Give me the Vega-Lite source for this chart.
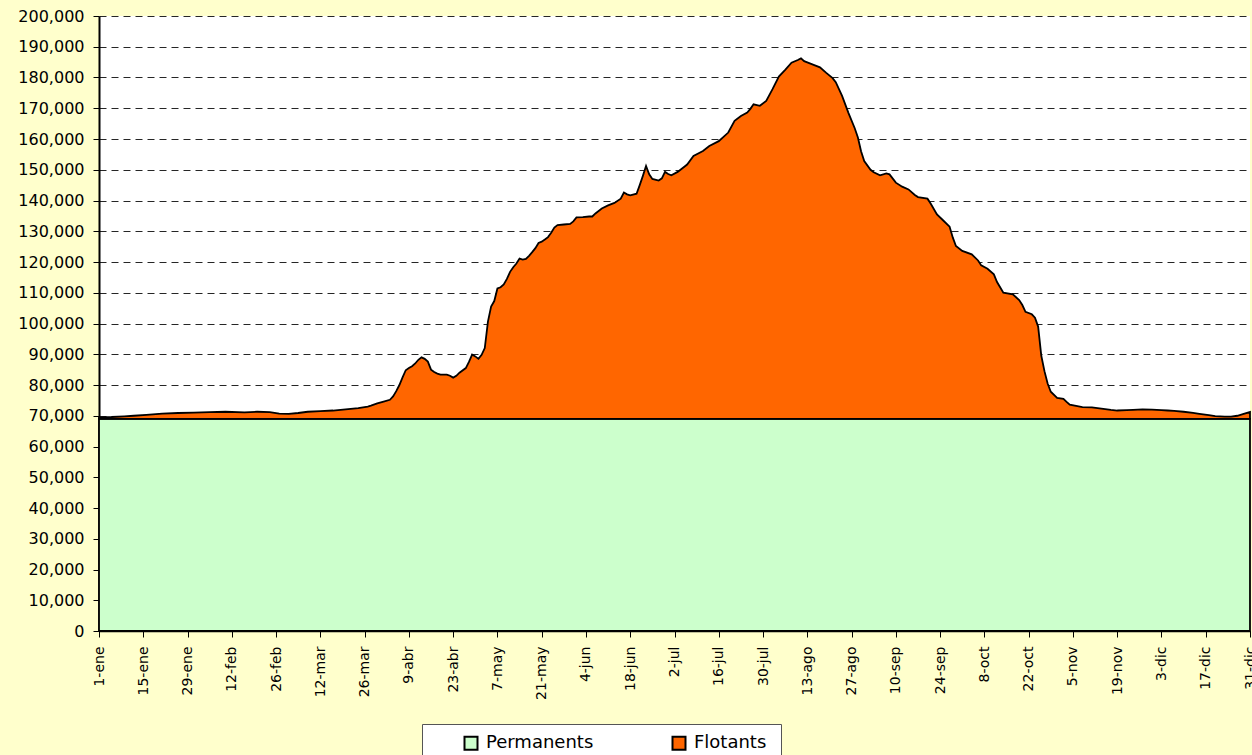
{
"$schema": "https://vega.github.io/schema/vega-lite/v6.json",
"width": 1151, "height": 615,
"autosize": {"type": "none"},
"padding": {"left": 99, "top": 16, "right": 2, "bottom": 124},
"background": "#FFFFCC",
"config": {"view": {"fill": "white", "stroke": null}, "font": "DejaVu Sans"},
"data": {"values": [
{"fecha":"2007-01-01","Permanents":69000,"Flotants":500},
{"fecha":"2007-01-05","Permanents":69000,"Flotants":600},
{"fecha":"2007-01-09","Permanents":69000,"Flotants":800},
{"fecha":"2007-01-12","Permanents":69000,"Flotants":1000},
{"fecha":"2007-01-16","Permanents":69000,"Flotants":1300},
{"fecha":"2007-01-21","Permanents":69000,"Flotants":1700},
{"fecha":"2007-01-26","Permanents":69000,"Flotants":1900},
{"fecha":"2007-01-31","Permanents":69000,"Flotants":2000},
{"fecha":"2007-02-05","Permanents":69000,"Flotants":2200},
{"fecha":"2007-02-10","Permanents":69000,"Flotants":2300},
{"fecha":"2007-02-16","Permanents":69000,"Flotants":2100},
{"fecha":"2007-02-20","Permanents":69000,"Flotants":2300},
{"fecha":"2007-02-24","Permanents":69000,"Flotants":2200},
{"fecha":"2007-02-27","Permanents":69000,"Flotants":1700},
{"fecha":"2007-03-02","Permanents":69000,"Flotants":1600},
{"fecha":"2007-03-05","Permanents":69000,"Flotants":1900},
{"fecha":"2007-03-08","Permanents":69000,"Flotants":2300},
{"fecha":"2007-03-12","Permanents":69000,"Flotants":2500},
{"fecha":"2007-03-16","Permanents":69000,"Flotants":2700},
{"fecha":"2007-03-20","Permanents":69000,"Flotants":3100},
{"fecha":"2007-03-24","Permanents":69000,"Flotants":3500},
{"fecha":"2007-03-27","Permanents":69000,"Flotants":4000},
{"fecha":"2007-03-28","Permanents":69000,"Flotants":4300},
{"fecha":"2007-03-30","Permanents":69000,"Flotants":5000},
{"fecha":"2007-04-01","Permanents":69000,"Flotants":5600},
{"fecha":"2007-04-03","Permanents":69000,"Flotants":6200},
{"fecha":"2007-04-04","Permanents":69000,"Flotants":7300},
{"fecha":"2007-04-05","Permanents":69000,"Flotants":9000},
{"fecha":"2007-04-06","Permanents":69000,"Flotants":11000},
{"fecha":"2007-04-07","Permanents":69000,"Flotants":13500},
{"fecha":"2007-04-08","Permanents":69000,"Flotants":15800},
{"fecha":"2007-04-09","Permanents":69000,"Flotants":16500},
{"fecha":"2007-04-10","Permanents":69000,"Flotants":17100},
{"fecha":"2007-04-11","Permanents":69000,"Flotants":18000},
{"fecha":"2007-04-12","Permanents":69000,"Flotants":19200},
{"fecha":"2007-04-13","Permanents":69000,"Flotants":20000},
{"fecha":"2007-04-14","Permanents":69000,"Flotants":19500},
{"fecha":"2007-04-15","Permanents":69000,"Flotants":18600},
{"fecha":"2007-04-16","Permanents":69000,"Flotants":16000},
{"fecha":"2007-04-17","Permanents":69000,"Flotants":15200},
{"fecha":"2007-04-18","Permanents":69000,"Flotants":14700},
{"fecha":"2007-04-19","Permanents":69000,"Flotants":14400},
{"fecha":"2007-04-21","Permanents":69000,"Flotants":14400},
{"fecha":"2007-04-22","Permanents":69000,"Flotants":14000},
{"fecha":"2007-04-23","Permanents":69000,"Flotants":13400},
{"fecha":"2007-04-24","Permanents":69000,"Flotants":14000},
{"fecha":"2007-04-25","Permanents":69000,"Flotants":15000},
{"fecha":"2007-04-27","Permanents":69000,"Flotants":16500},
{"fecha":"2007-04-28","Permanents":69000,"Flotants":18500},
{"fecha":"2007-04-29","Permanents":69000,"Flotants":20900},
{"fecha":"2007-04-30","Permanents":69000,"Flotants":20300},
{"fecha":"2007-05-01","Permanents":69000,"Flotants":19500},
{"fecha":"2007-05-02","Permanents":69000,"Flotants":20800},
{"fecha":"2007-05-03","Permanents":69000,"Flotants":23000},
{"fecha":"2007-05-04","Permanents":69000,"Flotants":31600},
{"fecha":"2007-05-05","Permanents":69000,"Flotants":36500},
{"fecha":"2007-05-06","Permanents":69000,"Flotants":38300},
{"fecha":"2007-05-07","Permanents":69000,"Flotants":42400},
{"fecha":"2007-05-08","Permanents":69000,"Flotants":42800},
{"fecha":"2007-05-09","Permanents":69000,"Flotants":43700},
{"fecha":"2007-05-10","Permanents":69000,"Flotants":45500},
{"fecha":"2007-05-11","Permanents":69000,"Flotants":47800},
{"fecha":"2007-05-12","Permanents":69000,"Flotants":49300},
{"fecha":"2007-05-13","Permanents":69000,"Flotants":50500},
{"fecha":"2007-05-14","Permanents":69000,"Flotants":52100},
{"fecha":"2007-05-15","Permanents":69000,"Flotants":51800},
{"fecha":"2007-05-16","Permanents":69000,"Flotants":52000},
{"fecha":"2007-05-17","Permanents":69000,"Flotants":53000},
{"fecha":"2007-05-18","Permanents":69000,"Flotants":54200},
{"fecha":"2007-05-19","Permanents":69000,"Flotants":55500},
{"fecha":"2007-05-20","Permanents":69000,"Flotants":57200},
{"fecha":"2007-05-21","Permanents":69000,"Flotants":57600},
{"fecha":"2007-05-22","Permanents":69000,"Flotants":58300},
{"fecha":"2007-05-23","Permanents":69000,"Flotants":59100},
{"fecha":"2007-05-24","Permanents":69000,"Flotants":60500},
{"fecha":"2007-05-25","Permanents":69000,"Flotants":62200},
{"fecha":"2007-05-26","Permanents":69000,"Flotants":63000},
{"fecha":"2007-05-28","Permanents":69000,"Flotants":63200},
{"fecha":"2007-05-30","Permanents":69000,"Flotants":63400},
{"fecha":"2007-05-31","Permanents":69000,"Flotants":64200},
{"fecha":"2007-06-01","Permanents":69000,"Flotants":65500},
{"fecha":"2007-06-03","Permanents":69000,"Flotants":65600},
{"fecha":"2007-06-05","Permanents":69000,"Flotants":65800},
{"fecha":"2007-06-06","Permanents":69000,"Flotants":65800},
{"fecha":"2007-06-07","Permanents":69000,"Flotants":66800},
{"fecha":"2007-06-09","Permanents":69000,"Flotants":68400},
{"fecha":"2007-06-11","Permanents":69000,"Flotants":69400},
{"fecha":"2007-06-13","Permanents":69000,"Flotants":70200},
{"fecha":"2007-06-15","Permanents":69000,"Flotants":71600},
{"fecha":"2007-06-16","Permanents":69000,"Flotants":73600},
{"fecha":"2007-06-17","Permanents":69000,"Flotants":73000},
{"fecha":"2007-06-18","Permanents":69000,"Flotants":72700},
{"fecha":"2007-06-20","Permanents":69000,"Flotants":73200},
{"fecha":"2007-06-21","Permanents":69000,"Flotants":76000},
{"fecha":"2007-06-22","Permanents":69000,"Flotants":79000},
{"fecha":"2007-06-23","Permanents":69000,"Flotants":82200},
{"fecha":"2007-06-24","Permanents":69000,"Flotants":79500},
{"fecha":"2007-06-25","Permanents":69000,"Flotants":78000},
{"fecha":"2007-06-27","Permanents":69000,"Flotants":77500},
{"fecha":"2007-06-28","Permanents":69000,"Flotants":78200},
{"fecha":"2007-06-29","Permanents":69000,"Flotants":80300},
{"fecha":"2007-06-30","Permanents":69000,"Flotants":79600},
{"fecha":"2007-07-01","Permanents":69000,"Flotants":79200},
{"fecha":"2007-07-03","Permanents":69000,"Flotants":80300},
{"fecha":"2007-07-04","Permanents":69000,"Flotants":81100},
{"fecha":"2007-07-06","Permanents":69000,"Flotants":82700},
{"fecha":"2007-07-08","Permanents":69000,"Flotants":85500},
{"fecha":"2007-07-11","Permanents":69000,"Flotants":87100},
{"fecha":"2007-07-13","Permanents":69000,"Flotants":88700},
{"fecha":"2007-07-16","Permanents":69000,"Flotants":90300},
{"fecha":"2007-07-19","Permanents":69000,"Flotants":93100},
{"fecha":"2007-07-21","Permanents":69000,"Flotants":96900},
{"fecha":"2007-07-23","Permanents":69000,"Flotants":98500},
{"fecha":"2007-07-25","Permanents":69000,"Flotants":99600},
{"fecha":"2007-07-26","Permanents":69000,"Flotants":100800},
{"fecha":"2007-07-27","Permanents":69000,"Flotants":102300},
{"fecha":"2007-07-29","Permanents":69000,"Flotants":101800},
{"fecha":"2007-07-31","Permanents":69000,"Flotants":103400},
{"fecha":"2007-08-02","Permanents":69000,"Flotants":107200},
{"fecha":"2007-08-04","Permanents":69000,"Flotants":111300},
{"fecha":"2007-08-06","Permanents":69000,"Flotants":113500},
{"fecha":"2007-08-08","Permanents":69000,"Flotants":115800},
{"fecha":"2007-08-10","Permanents":69000,"Flotants":116700},
{"fecha":"2007-08-11","Permanents":69000,"Flotants":117200},
{"fecha":"2007-08-12","Permanents":69000,"Flotants":116300},
{"fecha":"2007-08-13","Permanents":69000,"Flotants":115900},
{"fecha":"2007-08-15","Permanents":69000,"Flotants":115100},
{"fecha":"2007-08-17","Permanents":69000,"Flotants":114300},
{"fecha":"2007-08-19","Permanents":69000,"Flotants":112500},
{"fecha":"2007-08-21","Permanents":69000,"Flotants":110800},
{"fecha":"2007-08-22","Permanents":69000,"Flotants":109500},
{"fecha":"2007-08-24","Permanents":69000,"Flotants":105000},
{"fecha":"2007-08-26","Permanents":69000,"Flotants":99500},
{"fecha":"2007-08-28","Permanents":69000,"Flotants":94500},
{"fecha":"2007-08-29","Permanents":69000,"Flotants":91500},
{"fecha":"2007-08-30","Permanents":69000,"Flotants":87000},
{"fecha":"2007-08-31","Permanents":69000,"Flotants":83800},
{"fecha":"2007-09-02","Permanents":69000,"Flotants":81000},
{"fecha":"2007-09-03","Permanents":69000,"Flotants":80200},
{"fecha":"2007-09-05","Permanents":69000,"Flotants":79200},
{"fecha":"2007-09-07","Permanents":69000,"Flotants":79800},
{"fecha":"2007-09-08","Permanents":69000,"Flotants":79500},
{"fecha":"2007-09-10","Permanents":69000,"Flotants":76800},
{"fecha":"2007-09-12","Permanents":69000,"Flotants":75500},
{"fecha":"2007-09-14","Permanents":69000,"Flotants":74600},
{"fecha":"2007-09-16","Permanents":69000,"Flotants":72800},
{"fecha":"2007-09-17","Permanents":69000,"Flotants":72100},
{"fecha":"2007-09-20","Permanents":69000,"Flotants":71600},
{"fecha":"2007-09-21","Permanents":69000,"Flotants":70000},
{"fecha":"2007-09-23","Permanents":69000,"Flotants":66500},
{"fecha":"2007-09-25","Permanents":69000,"Flotants":64500},
{"fecha":"2007-09-27","Permanents":69000,"Flotants":62500},
{"fecha":"2007-09-28","Permanents":69000,"Flotants":59000},
{"fecha":"2007-09-29","Permanents":69000,"Flotants":56200},
{"fecha":"2007-10-01","Permanents":69000,"Flotants":54600},
{"fecha":"2007-10-04","Permanents":69000,"Flotants":53500},
{"fecha":"2007-10-06","Permanents":69000,"Flotants":51500},
{"fecha":"2007-10-07","Permanents":69000,"Flotants":49900},
{"fecha":"2007-10-09","Permanents":69000,"Flotants":48800},
{"fecha":"2007-10-11","Permanents":69000,"Flotants":47000},
{"fecha":"2007-10-12","Permanents":69000,"Flotants":44500},
{"fecha":"2007-10-14","Permanents":69000,"Flotants":41000},
{"fecha":"2007-10-17","Permanents":69000,"Flotants":40500},
{"fecha":"2007-10-19","Permanents":69000,"Flotants":38600},
{"fecha":"2007-10-20","Permanents":69000,"Flotants":37000},
{"fecha":"2007-10-21","Permanents":69000,"Flotants":34800},
{"fecha":"2007-10-23","Permanents":69000,"Flotants":34000},
{"fecha":"2007-10-24","Permanents":69000,"Flotants":32900},
{"fecha":"2007-10-25","Permanents":69000,"Flotants":30000},
{"fecha":"2007-10-26","Permanents":69000,"Flotants":20500},
{"fecha":"2007-10-27","Permanents":69000,"Flotants":15500},
{"fecha":"2007-10-28","Permanents":69000,"Flotants":11500},
{"fecha":"2007-10-29","Permanents":69000,"Flotants":8800},
{"fecha":"2007-10-31","Permanents":69000,"Flotants":6800},
{"fecha":"2007-11-02","Permanents":69000,"Flotants":6500},
{"fecha":"2007-11-03","Permanents":69000,"Flotants":5500},
{"fecha":"2007-11-04","Permanents":69000,"Flotants":4600},
{"fecha":"2007-11-06","Permanents":69000,"Flotants":4200},
{"fecha":"2007-11-08","Permanents":69000,"Flotants":3800},
{"fecha":"2007-11-11","Permanents":69000,"Flotants":3700},
{"fecha":"2007-11-14","Permanents":69000,"Flotants":3300},
{"fecha":"2007-11-17","Permanents":69000,"Flotants":2900},
{"fecha":"2007-11-19","Permanents":69000,"Flotants":2700},
{"fecha":"2007-11-22","Permanents":69000,"Flotants":2800},
{"fecha":"2007-11-24","Permanents":69000,"Flotants":2900},
{"fecha":"2007-11-27","Permanents":69000,"Flotants":3100},
{"fecha":"2007-11-30","Permanents":69000,"Flotants":3000},
{"fecha":"2007-12-03","Permanents":69000,"Flotants":2800},
{"fecha":"2007-12-05","Permanents":69000,"Flotants":2700},
{"fecha":"2007-12-07","Permanents":69000,"Flotants":2600},
{"fecha":"2007-12-10","Permanents":69000,"Flotants":2300},
{"fecha":"2007-12-13","Permanents":69000,"Flotants":1900},
{"fecha":"2007-12-15","Permanents":69000,"Flotants":1600},
{"fecha":"2007-12-18","Permanents":69000,"Flotants":1200},
{"fecha":"2007-12-20","Permanents":69000,"Flotants":900},
{"fecha":"2007-12-23","Permanents":69000,"Flotants":700},
{"fecha":"2007-12-25","Permanents":69000,"Flotants":700},
{"fecha":"2007-12-27","Permanents":69000,"Flotants":1000},
{"fecha":"2007-12-29","Permanents":69000,"Flotants":1600},
{"fecha":"2007-12-31","Permanents":69000,"Flotants":2200}
]},
"transform": [{"fold": ["Permanents", "Flotants"], "as": ["serie", "valor"]}],
"mark": {"type": "area", "interpolate": "linear", "stroke": "black", "strokeWidth": 1.8, "opacity": 1},
"encoding": {
  "x": {"field": "fecha", "type": "temporal",
    "scale": {"type": "utc", "nice": false, "domain": [{"year": 2007, "month": 1, "date": 1, "utc": true}, {"year": 2007, "month": 12, "date": 31, "utc": true}]},
    "axis": {"title": null, "grid": false, "labelAngle": -90, "labelFontSize": 14, "labelColor": "black", "labelPadding": 9, "labelOverlap": false, "labelBound": false, "labelFlush": false,
      "tickColor": "black", "tickSize": 6, "domainColor": "black", "domainWidth": 1.5,
      "values": [
        {"year": 2007, "month": 1, "date": 1, "utc": true},
        {"year": 2007, "month": 1, "date": 15, "utc": true},
        {"year": 2007, "month": 1, "date": 29, "utc": true},
        {"year": 2007, "month": 2, "date": 12, "utc": true},
        {"year": 2007, "month": 2, "date": 26, "utc": true},
        {"year": 2007, "month": 3, "date": 12, "utc": true},
        {"year": 2007, "month": 3, "date": 26, "utc": true},
        {"year": 2007, "month": 4, "date": 9, "utc": true},
        {"year": 2007, "month": 4, "date": 23, "utc": true},
        {"year": 2007, "month": 5, "date": 7, "utc": true},
        {"year": 2007, "month": 5, "date": 21, "utc": true},
        {"year": 2007, "month": 6, "date": 4, "utc": true},
        {"year": 2007, "month": 6, "date": 18, "utc": true},
        {"year": 2007, "month": 7, "date": 2, "utc": true},
        {"year": 2007, "month": 7, "date": 16, "utc": true},
        {"year": 2007, "month": 7, "date": 30, "utc": true},
        {"year": 2007, "month": 8, "date": 13, "utc": true},
        {"year": 2007, "month": 8, "date": 27, "utc": true},
        {"year": 2007, "month": 9, "date": 10, "utc": true},
        {"year": 2007, "month": 9, "date": 24, "utc": true},
        {"year": 2007, "month": 10, "date": 8, "utc": true},
        {"year": 2007, "month": 10, "date": 22, "utc": true},
        {"year": 2007, "month": 11, "date": 5, "utc": true},
        {"year": 2007, "month": 11, "date": 19, "utc": true},
        {"year": 2007, "month": 12, "date": 3, "utc": true},
        {"year": 2007, "month": 12, "date": 17, "utc": true},
        {"year": 2007, "month": 12, "date": 31, "utc": true}
      ],
      "labelExpr": "utcdate(datum.value) + '-' + ['ene','feb','mar','abr','may','jun','jul','ago','sep','oct','nov','dic'][utcmonth(datum.value)]"
    }},
  "y": {"field": "valor", "type": "quantitative", "stack": "zero",
    "scale": {"domain": [0, 200000], "nice": false},
    "axis": {"title": null, "values": [0,10000,20000,30000,40000,50000,60000,70000,80000,90000,100000,110000,120000,130000,140000,150000,160000,170000,180000,190000,200000],
      "format": ",d", "labelFontSize": 16, "labelColor": "black", "labelPadding": 9,
      "tickColor": "black", "tickSize": 6, "domainColor": "black", "domainWidth": 2,
      "grid": true, "gridColor": "black", "gridDash": [7, 5], "gridWidth": 1, "gridOpacity": 0.85}},
  "color": {"field": "serie", "type": "nominal",
    "scale": {"domain": ["Permanents", "Flotants"], "range": ["#CCFFCC", "#FF6600"]},
    "legend": {"orient": "none", "legendX": 323, "legendY": 708, "direction": "horizontal",
      "title": "\u2003\u2003", "titleOrient": "right", "titleFontSize": 12, "titlePadding": 5,
      "symbolType": "square", "symbolSize": 169, "symbolStrokeColor": "black", "symbolStrokeWidth": 2, "symbolOpacity": 1,
      "labelFontSize": 18, "labelColor": "black", "labelOffset": 6,
      "fillColor": "white", "strokeColor": "#555555", "padding": 10, "symbolOffset": 30, "columnPadding": 46}},
  "order": {"field": "serie", "type": "nominal", "sort": "descending"}
}
}
